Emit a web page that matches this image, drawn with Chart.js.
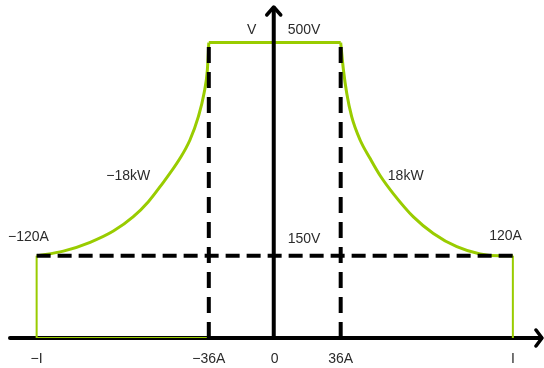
<!DOCTYPE html>
<html>
<head>
<meta charset="utf-8">
<script src="https://cdn.jsdelivr.net/npm/chart.js@4/dist/chart.umd.min.js"></script>
<style>
html,body{margin:0;padding:0;background:#fff;}
canvas{display:block;}
</style>
</head>
<body>
<canvas id="c" width="544" height="368"></canvas>
<script>
// ---- data (schematic operating envelope) ----
const I_MAX = 130;          // "I" position on the current axis
const I_KNEE = 36;          // 36A
const V_MAX = 500;          // 500V
const V_LOW = 139;          // "150V" level as drawn
const tickValues = [-130, -36, 0, 36, 130];
const tickLabels = ['\u2212I', '\u221236A', '0', '36A', 'I'];
const leftCurveI  = [-130, -115.4, -100.8, -88.1, -77.2, -69.0, -62.6, -51.7, -46.3, -41.7, -38.6, -36.8, -36];
const leftCurveV  = [139, 147, 162, 181, 205.3, 230.7, 256.1, 304.1, 335.1, 374.5, 414.1, 453.5, 500];
const rightCurveI = [36, 37.5, 39.3, 42.0, 46.6, 52.0, 57.5, 64.8, 75.7, 86.6, 99.4, 112.1, 123, 130];
const rightCurveV = [500, 453.5, 414.1, 374.5, 335.1, 304.1, 275, 244, 205, 177, 154.5, 142.2, 139, 139];
const annoText = ['V', '500V', '\u221218kW', '18kW', '\u2212120A', '120A', '150V'];
const annoI    = [-12.6, 16, -80, 71.5, -134.5, 126, 16];
const annoV    = [521, 521, 274.5, 274, 170, 172, 168];

// ---- build datasets ----
const pts = (xs, ys) => xs.map((x, k) => ({x: x, y: ys[k]}));
const GREEN = '#99cc00';
const leftCurve = pts(leftCurveI, leftCurveV);
const rightCurve = pts(rightCurveI, rightCurveV);
const topLine = [{x: -I_KNEE, y: V_MAX}, {x: I_KNEE, y: V_MAX}];
const leftEdge = [{x: -I_KNEE, y: 0}, {x: -I_MAX, y: 0}, {x: -I_MAX, y: V_LOW}];
const rightEdge = [{x: I_MAX, y: V_LOW}, {x: I_MAX, y: 0}];
const dashV1 = [{x: -I_KNEE, y: 0}, {x: -I_KNEE, y: V_MAX}];
const dashV2 = [{x: I_KNEE, y: 0}, {x: I_KNEE, y: V_MAX}];
const dashH  = [{x: -I_MAX, y: V_LOW}, {x: I_MAX, y: V_LOW}];

const FONT = '"Liberation Sans", Arial, sans-serif';
const TXT = '#2b2b2b';

const axesPlugin = {
  id: 'axes',
  beforeDatasetsDraw(chart) {
    const {ctx, scales: {x, y}} = chart;
    const y0 = y.getPixelForValue(0);
    ctx.save();
    ctx.strokeStyle = '#000';
    ctx.lineWidth = 4;
    ctx.lineCap = 'round';
    ctx.beginPath();
    ctx.moveTo(10, y0);
    ctx.lineTo(541, y0);
    ctx.stroke();
    ctx.lineWidth = 3.5;
    ctx.lineJoin = 'round';
    ctx.beginPath();
    ctx.moveTo(536, y0 - 8);
    ctx.lineTo(542, y0);
    ctx.lineTo(536, y0 + 8);
    ctx.stroke();
    ctx.restore();
  },
  afterDatasetsDraw(chart) {
    const {ctx, scales: {x, y}} = chart;
    const x0 = x.getPixelForValue(0) - 1;
    const y0 = y.getPixelForValue(0);
    ctx.save();
    ctx.strokeStyle = '#000';
    ctx.lineWidth = 4;
    ctx.lineCap = 'round';
    ctx.beginPath();
    ctx.moveTo(x0, y0);
    ctx.lineTo(x0, 8);
    ctx.stroke();
    ctx.lineWidth = 3.5;
    ctx.lineJoin = 'round';
    ctx.beginPath();
    ctx.moveTo(x0 - 7, 15);
    ctx.lineTo(x0, 7);
    ctx.lineTo(x0 + 7, 15);
    ctx.stroke();
    // annotations
    ctx.fillStyle = TXT;
    ctx.font = '14px ' + FONT;
    ctx.textAlign = 'center';
    ctx.textBaseline = 'middle';
    annoText.forEach((t, k) => {
      ctx.fillText(t, x.getPixelForValue(annoI[k]), y.getPixelForValue(annoV[k]));
    });
    ctx.restore();
  }
};

new Chart(document.getElementById('c'), {
  type: 'line',
  data: {
    datasets: [
      {data: dashV1, borderColor: '#000', borderWidth: 4, borderDash: [16, 9], order: 1},
      {data: dashV2, borderColor: '#000', borderWidth: 4, borderDash: [16, 9], order: 1},
      {data: dashH,  borderColor: '#000', borderWidth: 4, borderDash: [14, 7], order: 1},
      {data: leftCurve, borderColor: GREEN, borderWidth: 3, cubicInterpolationMode: 'monotone', order: 2},
      {data: topLine, borderColor: GREEN, borderWidth: 3, order: 2},
      {data: rightCurve, borderColor: GREEN, borderWidth: 3, cubicInterpolationMode: 'monotone', order: 2},
      {data: leftEdge, borderColor: GREEN, borderWidth: 2, order: 2},
      {data: rightEdge, borderColor: GREEN, borderWidth: 2, order: 2}
    ]
  },
  options: {
    responsive: false,
    devicePixelRatio: 1,
    animation: false,
    layout: {padding: 0},
    elements: {point: {radius: 0, hoverRadius: 0}, line: {tension: 0, fill: false}},
    plugins: {legend: {display: false}, tooltip: {enabled: false}},
    events: [],
    scales: {
      x: {
        type: 'linear',
        min: -150,
        max: 147,
        grid: {display: false, drawTicks: false},
        border: {display: false},
        afterBuildTicks: s => { s.ticks = tickValues.map(v => ({value: v})); },
        afterFit: s => { s.height = 30; },
        ticks: {
          autoSkip: false,
          maxRotation: 0,
          padding: 13,
          color: TXT,
          font: {family: FONT, size: 14},
          callback: (v) => tickLabels[tickValues.indexOf(v)]
        }
      },
      y: {
        type: 'linear',
        display: false,
        min: 0,
        max: 572
      }
    }
  },
  plugins: [axesPlugin]
});
</script>
</body>
</html>
